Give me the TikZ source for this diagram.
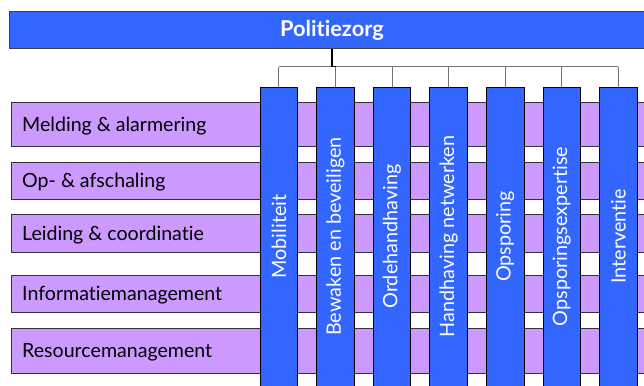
\documentclass[tikz,border=0pt]{standalone}
\usepackage{fontspec}
\setmainfont{Lato}[Ligatures=NoCommon]
\definecolor{blueF}{HTML}{3366FF}
\definecolor{purpleF}{HTML}{CC99FF}
\begin{document}
\begin{tikzpicture}[x=1pt,y=-1pt,
  rowbox/.style={draw=black!80, line width=0.8pt, fill=purpleF, anchor=north west, minimum width=660pt, inner sep=0},
  colbox/.style={draw=black, line width=0.8pt, fill=blueF, anchor=north, minimum width=37.5pt, minimum height=320pt, inner sep=0},
  topbox/.style={draw=black!75, line width=1pt, fill=blueF, anchor=north west, minimum width=660pt, minimum height=37pt, inner sep=0},
  rowtext/.style={anchor=base west, font=\fontsize{19.6}{19.6}\selectfont, text=black, inner sep=0},
  coltext/.style={rotate=90, font=\fontsize{19.8}{19.8}\selectfont, text=white, inner sep=0},
  titletext/.style={font=\fontsize{21.8}{21.8}\selectfont\bfseries, text=white, inner sep=0},
  bus/.style={draw=black!55, line width=0.9pt},
  trunk/.style={draw=black, line width=1.4pt}]
\useasboundingbox (0,0) rectangle (644,385);
\clip (0,0) rectangle (644,385);
% top box
\node[topbox] (top) at (9,11) {};
\node[titletext] (title) at (332,30) {Politiezorg};
% rows
\node[rowbox, minimum height=44.3pt] (r1) at (11,101.7) {};
\node[rowbox, minimum height=37.6pt] (r2) at (11,161.7) {};
\node[rowbox, minimum height=38pt] (r3) at (11,214.3) {};
\node[rowbox, minimum height=37.3pt] (r4) at (11,275) {};
\node[rowbox, minimum height=45.6pt] (r5) at (11,327.7) {};
\node[rowtext] (t1) at (22,131.5) {Melding \& alarmering};
\node[rowtext] (t2) at (22,187.2) {Op- \& afschaling};
\node[rowtext] (t3) at (22,240.5) {Leiding \& coordinatie};
\node[rowtext] (t4) at (22,300.5) {Informatiemanagement};
\node[rowtext] (t5) at (22,357.5) {Resourcemanagement};
% columns
\foreach \i/\x/\lab in {1/278.8/Mobiliteit, 2/335.4/Bewaken en beveiligen, 3/392.0/Ordehandhaving, 4/448.6/Handhaving netwerken, 5/505.2/Opsporing, 6/561.8/Opsporingsexpertise, 7/618.4/Interventie}{
  \node[colbox] (c\i) at (\x,86.7) {};
  \node[coltext] (l\i) at (\x,236.5) {\lab};
}
% connectors
\coordinate (j) at (332,66.7);
\draw[bus] (c1.north |- j) -- (c7.north |- j);
\foreach \i in {1,...,7}{
  \draw[bus] (c\i.north |- j) -- (c\i.north);
}
\draw[trunk] (top.south -| j) -- (j) -- ([xshift=4pt]j);
\end{tikzpicture}
\end{document}
